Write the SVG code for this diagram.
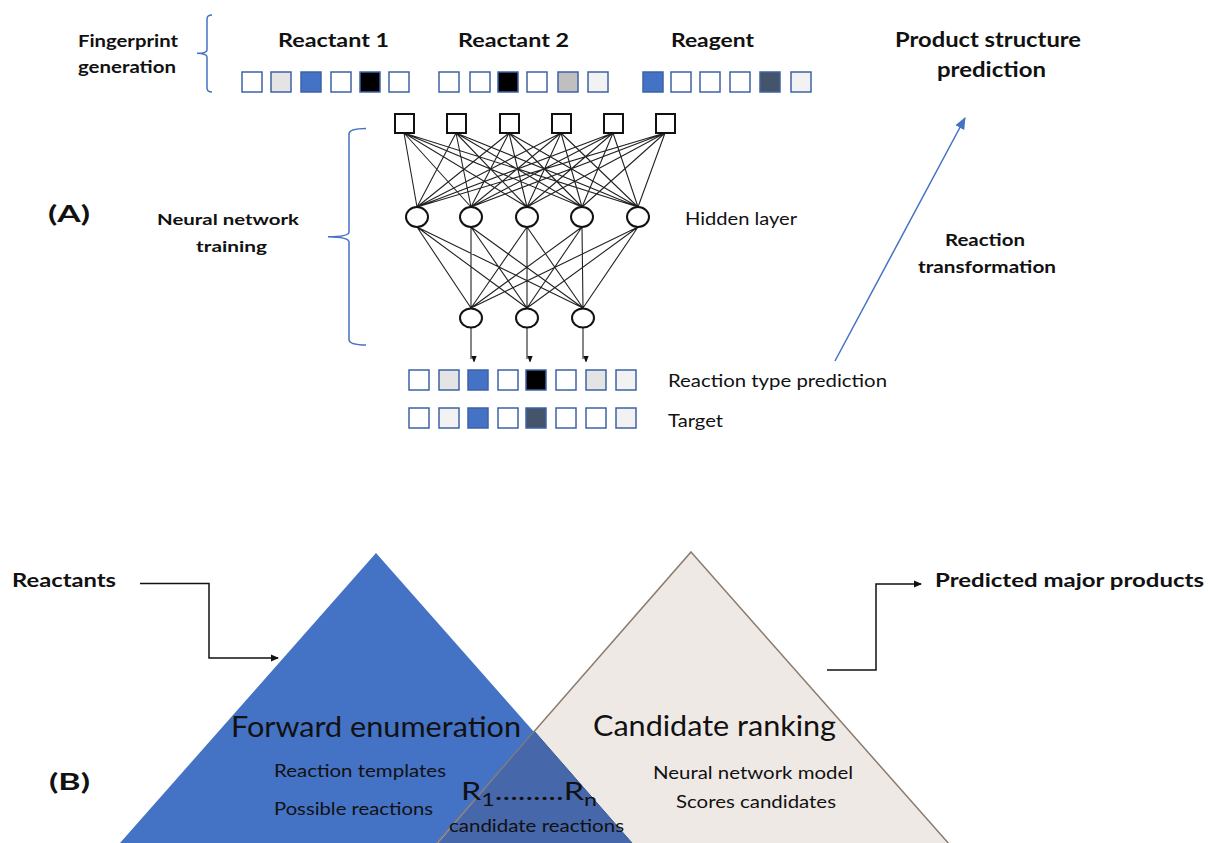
<svg xmlns="http://www.w3.org/2000/svg" width="1208" height="843" viewBox="0 0 1208 843">
<defs>
<style>
.b{font-family:Lato,"Liberation Sans",sans-serif;font-weight:bold;fill:#111}
.r{font-family:Lato,"Liberation Sans",sans-serif;fill:#111}
.bx{stroke:#3E63A5;stroke-width:1.5}
.w{fill:#fff}.lg{fill:#e4e4e4}.vl{fill:#f2f2f2}.bl{fill:#4472C4}.k{fill:#000}.g{fill:#bfbfbf}.ds{fill:#44546A}
.net{stroke:#222;stroke-width:1.1;fill:none}
.nd{stroke:#111;stroke-width:2;fill:#fff}
.brk{stroke:#4472C4;stroke-width:1.5;fill:none}
</style>
<marker id="ah" markerWidth="8" markerHeight="8" refX="7" refY="4" orient="auto" markerUnits="userSpaceOnUse"><path d="M0,0.5 L8,4 L0,7.5z" fill="#111"/></marker>
<marker id="ahs" markerWidth="6" markerHeight="8" refX="3" refY="7" orient="auto" markerUnits="userSpaceOnUse"><path d="M0,0 L6,0 L3,8z" fill="#111" transform="rotate(-90 3 4)"/></marker>
<marker id="ab" markerWidth="12" markerHeight="12" refX="11" refY="6" orient="auto" markerUnits="userSpaceOnUse"><path d="M0,1 L12,6 L0,11z" fill="#4472C4"/></marker>
</defs>
<rect width="1208" height="843" fill="#fff"/>

<g id="bottom-shapes">
<polygon points="376,553 632,843 120,843" fill="#4472C4"/>
<polygon points="691,552 950,845 435,845" fill="#EFE9E5" stroke="#8a7b6e" stroke-width="1.5"/>
<polygon points="534.5,731.5 632,843 438,843" fill="#4767AB"/>
<polyline points="534.5,731.5 632,843" fill="none" stroke="#3b5894" stroke-width="1"/>
</g>

<g id="fingerprint-label">
<text class="b" x="78" y="47" font-size="17" textLength="100" lengthAdjust="spacingAndGlyphs">Fingerprint</text>
<text class="b" x="78" y="73" font-size="17" textLength="98" lengthAdjust="spacingAndGlyphs">generation</text>
<path class="brk" d="M212,15 Q207,15 207,19 L207,50 Q207,53.3 197,53.3 Q207,53.6 207,57 L207,88 Q207,92 212,92"/>
</g>

<g id="reactant1">
<text class="b" x="278" y="47" font-size="19" textLength="111" lengthAdjust="spacingAndGlyphs">Reactant 1</text>
<rect class="bx w" x="242" y="72" width="20" height="20"/>
<rect class="bx lg" x="271" y="72" width="20" height="20"/>
<rect class="bx bl" x="301" y="72" width="20" height="20"/>
<rect class="bx w" x="331" y="72" width="20" height="20"/>
<rect class="bx k" x="360" y="72" width="20" height="20"/>
<rect class="bx w" x="389" y="72" width="20" height="20"/>
</g>

<g id="reactant2">
<text class="b" x="458" y="47" font-size="19" textLength="111" lengthAdjust="spacingAndGlyphs">Reactant 2</text>
<rect class="bx w" x="439" y="72" width="20" height="20"/>
<rect class="bx w" x="470" y="72" width="20" height="20"/>
<rect class="bx k" x="498" y="72" width="20" height="20"/>
<rect class="bx w" x="527" y="72" width="20" height="20"/>
<rect class="bx g" x="558" y="72" width="20" height="20"/>
<rect class="bx vl" x="588" y="72" width="20" height="20"/>
</g>

<g id="reagent">
<text class="b" x="671" y="47" font-size="19" textLength="83" lengthAdjust="spacingAndGlyphs">Reagent</text>
<rect class="bx bl" x="643" y="72" width="20" height="20"/>
<rect class="bx w" x="671" y="72" width="20" height="20"/>
<rect class="bx w" x="700" y="72" width="20" height="20"/>
<rect class="bx w" x="730" y="72" width="20" height="20"/>
<rect class="bx ds" x="760" y="72" width="20" height="20"/>
<rect class="bx vl" x="791" y="72" width="20" height="20"/>
</g>

<g id="product-structure">
<text class="b" x="895" y="47" font-size="20" textLength="186" lengthAdjust="spacingAndGlyphs">Product structure</text>
<text class="b" x="937" y="77" font-size="20" textLength="109" lengthAdjust="spacingAndGlyphs">prediction</text>
</g>

<g id="label-A"><text class="b" x="48" y="222" font-size="23" textLength="42" lengthAdjust="spacingAndGlyphs">(A)</text></g>

<g id="nn-training">
<text class="b" x="157" y="225" font-size="16" textLength="142" lengthAdjust="spacingAndGlyphs">Neural network</text>
<text class="b" x="196" y="252" font-size="16" textLength="71" lengthAdjust="spacingAndGlyphs">training</text>
<path class="brk" d="M366,128.5 Q349,128.5 349,134 L349,232 Q349,236.7 328,236.7 Q349,237 349,242 L349,339.5 Q349,345 366,345"/>
</g>

<g id="connectors">
<g class="net">
<path d="M404,133 L417,207 M404,133 L471,207 M404,133 L527,207 M404,133 L582,207 M404,133 L638,207
M456,133 L417,207 M456,133 L471,207 M456,133 L527,207 M456,133 L582,207 M456,133 L638,207
M509,133 L417,207 M509,133 L471,207 M509,133 L527,207 M509,133 L582,207 M509,133 L638,207
M561,133 L417,207 M561,133 L471,207 M561,133 L527,207 M561,133 L582,207 M561,133 L638,207
M613,133 L417,207 M613,133 L471,207 M613,133 L527,207 M613,133 L582,207 M613,133 L638,207
M665,133 L417,207 M665,133 L471,207 M665,133 L527,207 M665,133 L582,207 M665,133 L638,207"/>
<path d="M417,227 L471,308 M417,227 L527,308 M417,227 L583,308
M471,227 L471,308 M471,227 L527,308 M471,227 L583,308
M527,227 L471,308 M527,227 L527,308 M527,227 L583,308
M582,227 L471,308 M582,227 L527,308 M582,227 L583,308
M638,227 L471,308 M638,227 L527,308 M638,227 L583,308"/>
<path d="M471,327 L471,359" marker-end="url(#ahs)"/>
<path d="M527,327 L527,359" marker-end="url(#ahs)"/>
<path d="M583,327 L583,359" marker-end="url(#ahs)"/>
</g>
<path d="M835,361 L965,118" stroke="#4472C4" stroke-width="1.5" fill="none" marker-end="url(#ab)"/>
<path d="M140,583.5 L209,583.5 L209,658 L278,658" stroke="#111" stroke-width="1.5" fill="none" marker-end="url(#ah)"/>
<path d="M827,670 L876,670 L876,584 L921,584" stroke="#111" stroke-width="1.5" fill="none" marker-end="url(#ah)"/>
</g>

<g id="input-layer">
<rect class="nd" x="395" y="114" width="19" height="19"/>
<rect class="nd" x="447" y="114" width="19" height="19"/>
<rect class="nd" x="500" y="114" width="19" height="19"/>
<rect class="nd" x="552" y="114" width="19" height="19"/>
<rect class="nd" x="604" y="114" width="19" height="19"/>
<rect class="nd" x="656" y="114" width="19" height="19"/>
</g>

<g id="hidden-layer">
<ellipse class="nd" cx="417" cy="217" rx="11" ry="10"/>
<ellipse class="nd" cx="471" cy="217" rx="11" ry="10"/>
<ellipse class="nd" cx="527" cy="217" rx="11" ry="10"/>
<ellipse class="nd" cx="582" cy="217" rx="11" ry="10"/>
<ellipse class="nd" cx="638" cy="217" rx="11" ry="10"/>
<text class="r" x="685" y="225" font-size="17" textLength="112" lengthAdjust="spacingAndGlyphs">Hidden layer</text>
</g>

<g id="output-layer">
<ellipse class="nd" cx="471" cy="318" rx="11" ry="9.5"/>
<ellipse class="nd" cx="527" cy="318" rx="11" ry="9.5"/>
<ellipse class="nd" cx="583" cy="318" rx="11" ry="9.5"/>
</g>

<g id="reaction-type-prediction">
<rect class="bx w" x="409" y="370" width="20" height="20"/>
<rect class="bx lg" x="439" y="370" width="20" height="20"/>
<rect class="bx bl" x="468" y="370" width="20" height="20"/>
<rect class="bx w" x="498" y="370" width="20" height="20"/>
<rect class="bx k" x="526" y="370" width="20" height="20"/>
<rect class="bx w" x="556" y="370" width="20" height="20"/>
<rect class="bx lg" x="586" y="370" width="20" height="20"/>
<rect class="bx vl" x="616" y="370" width="20" height="20"/>
<text class="r" x="668" y="387" font-size="17" textLength="219" lengthAdjust="spacingAndGlyphs">Reaction type prediction</text>
</g>

<g id="target">
<rect class="bx w" x="409" y="408" width="20" height="20"/>
<rect class="bx vl" x="439" y="408" width="20" height="20"/>
<rect class="bx bl" x="468" y="408" width="20" height="20"/>
<rect class="bx w" x="498" y="408" width="20" height="20"/>
<rect class="bx ds" x="526" y="408" width="20" height="20"/>
<rect class="bx w" x="556" y="408" width="20" height="20"/>
<rect class="bx w" x="586" y="408" width="20" height="20"/>
<rect class="bx vl" x="616" y="408" width="20" height="20"/>
<text class="r" x="668" y="427" font-size="17" textLength="55" lengthAdjust="spacingAndGlyphs">Target</text>
</g>

<g id="reaction-transformation">
<text class="b" x="945" y="246" font-size="17" textLength="80" lengthAdjust="spacingAndGlyphs">Reaction</text>
<text class="b" x="918" y="273" font-size="17" textLength="138" lengthAdjust="spacingAndGlyphs">transformation</text>
</g>

<g id="reactants"><text class="b" x="12" y="587" font-size="18" textLength="104" lengthAdjust="spacingAndGlyphs">Reactants</text></g>
<g id="predicted"><text class="b" x="935" y="587" font-size="18" textLength="269" lengthAdjust="spacingAndGlyphs">Predicted major products</text></g>
<g id="label-B"><text class="b" x="49" y="790" font-size="23" textLength="41" lengthAdjust="spacingAndGlyphs">(B)</text></g>

<g id="forward-enumeration">
<text class="r" x="231" y="737" font-size="28" textLength="290" lengthAdjust="spacingAndGlyphs">Forward enumeration</text>
<text class="r" x="274" y="777" font-size="17" textLength="172" lengthAdjust="spacingAndGlyphs">Reaction templates</text>
<text class="r" x="274" y="815" font-size="17" textLength="159" lengthAdjust="spacingAndGlyphs">Possible reactions</text>
</g>

<g id="candidate-reactions">
<text class="r" x="461" y="800" font-size="25" textLength="136" lengthAdjust="spacingAndGlyphs">R<tspan font-size="18" dy="6">1</tspan><tspan dy="-6">.........R</tspan><tspan font-size="18" dy="6">n</tspan></text>
<text class="r" x="449" y="832" font-size="17" textLength="175" lengthAdjust="spacingAndGlyphs">candidate reactions</text>
</g>

<g id="candidate-ranking">
<text class="r" x="593" y="736" font-size="28" textLength="243" lengthAdjust="spacingAndGlyphs">Candidate ranking</text>
<text class="r" x="653" y="779" font-size="17" textLength="200" lengthAdjust="spacingAndGlyphs">Neural network model</text>
<text class="r" x="676" y="808" font-size="17" textLength="160" lengthAdjust="spacingAndGlyphs">Scores candidates</text>
</g>
</svg>
